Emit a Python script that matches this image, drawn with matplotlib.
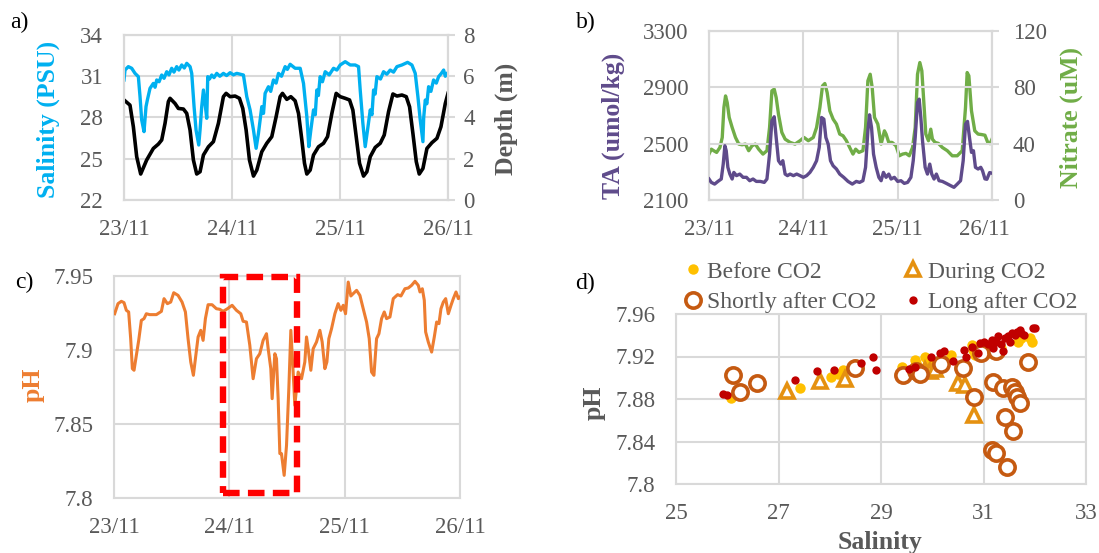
import matplotlib
matplotlib.use('Agg')
import matplotlib.pyplot as plt
from matplotlib.patches import Rectangle
from matplotlib.transforms import ScaledTranslation

plt.rcParams['font.family'] = ['Liberation Serif', 'DejaVu Serif']
plt.rcParams['font.size'] = 16.5

GRID = '#D9D9D9'
TICK = '#595959'
FS = 16.5
LFS = 18.5

# ---------------- data ----------------
date_ticks = [0, 24, 48, 72]            # hours since 23/11 00:00
date_labels = ['23/11', '24/11', '25/11', '26/11']

# panel a: salinity (PSU)
sal_t = [0.0, 0.22, 0.96, 1.71, 2.45, 3.19, 3.56, 3.93, 4.45, 4.89, 5.19, 5.78, 6.52, 6.9, 7.27, 7.8,
         8.38, 8.9, 9.49, 10.0, 10.60, 11.1, 11.71, 12.2, 12.83, 13.4, 13.94, 14.68, 15.05, 15.57, 16.01,
         16.61, 16.90, 17.27, 17.65, 18.09, 18.39, 18.61, 19.0, 19.50, 20.0, 20.61, 21.3, 22.09, 22.8,
         23.58, 24.3, 25.06, 26.54, 27.28, 28.02, 28.77, 29.36, 29.88, 30.62, 31.0, 31.36, 32.10, 32.6,
         33.21, 33.8, 34.33, 35.0, 35.81, 36.3, 36.92, 38.03, 39.15, 39.89, 40.63, 41.07, 41.52, 42.11,
         42.5, 42.85, 43.2, 43.59, 44.1, 44.71, 45.6, 46.56, 47.3, 48.04, 49.16, 50.27, 51.38, 52.12,
         52.49, 53.08, 53.60, 54.12, 54.72, 55.1, 55.46, 55.8, 56.20, 57.0, 57.68, 58.4, 59.16, 59.9,
         60.65, 61.76, 63.02, 63.98, 64.72, 65.31, 65.83, 66.43, 66.6, 66.95, 67.3, 67.69, 68.2, 68.80,
         69.4, 69.91, 70.5, 71.03, 71.4, 71.77, 72.0]
sal_v = [30.73, 31.45, 31.70, 31.58, 31.21, 30.97, 29.52, 27.82, 26.97, 28.79, 29.27, 30.12, 30.48, 30.2,
         30.73, 30.6, 31.09, 30.85, 31.33, 31.1, 31.58, 31.3, 31.70, 31.45, 31.82, 31.6, 31.94, 31.70,
         31.21, 28.79, 27.09, 26.00, 27.09, 28.79, 30.00, 28.79, 27.94, 30.97, 30.8, 31.09, 30.9, 31.21,
         31.0, 31.21, 31.05, 31.26, 31.1, 31.21, 31.09, 29.52, 28.55, 27.09, 25.76, 26.85, 28.79, 28.3,
         29.76, 30.24, 29.9, 30.73, 30.5, 31.21, 31.0, 31.70, 31.5, 31.87, 31.58, 31.58, 30.48, 28.06,
         25.88, 27.09, 28.55, 28.2, 30.00, 29.6, 30.97, 30.6, 31.33, 31.1, 31.58, 31.45, 31.82, 32.06,
         31.82, 31.82, 31.70, 30.00, 27.58, 25.88, 27.09, 28.55, 28.2, 30.00, 29.7, 30.97, 30.8, 31.33,
         31.15, 31.45, 31.3, 31.70, 31.82, 32.01, 31.82, 31.21, 29.52, 27.82, 26.24, 28.0, 29.27, 29.0,
         30.24, 29.9, 30.73, 30.5, 30.97, 31.2, 31.45, 31.0, 31.21, 31.26]

# panel a: depth (m)
dep_t = [0.0, 1.33, 2.08, 2.82, 3.71, 5.04, 6.52, 7.64, 8.38, 9.12, 9.86, 10.23, 11.34, 12.08, 13.20,
         13.94, 14.68, 15.42, 16.16, 16.90, 17.65, 18.76, 19.87, 20.98, 22.09, 22.69, 23.58, 24.69,
         25.65, 26.39, 27.14, 27.88, 28.77, 29.51, 30.62, 31.73, 32.84, 33.81, 34.70, 35.22, 36.18,
         37.07, 38.03, 38.78, 39.52, 40.11, 40.63, 41.37, 42.11, 43.22, 44.34, 45.23, 46.19, 47.15,
         48.04, 49.16, 50.12, 50.86, 51.60, 52.34, 53.23, 53.97, 54.72, 55.83, 56.94, 57.83, 58.79,
         59.76, 60.65, 61.76, 62.72, 63.46, 64.20, 64.95, 65.61, 66.43, 67.32, 68.43, 69.54, 70.43,
         71.40, 72.0]
dep_v = [4.85, 4.60, 3.55, 2.10, 1.26, 1.94, 2.50, 2.71, 2.91, 3.72, 4.77, 4.93, 4.68, 4.44, 4.41,
         4.20, 3.39, 1.94, 1.26, 1.37, 2.18, 2.58, 2.83, 3.72, 5.01, 5.17, 5.01, 5.04, 4.93, 4.44,
         3.39, 1.94, 1.16, 1.45, 2.34, 2.75, 3.07, 4.04, 5.01, 5.17, 4.88, 5.01, 4.81, 4.20, 2.91,
         1.78, 1.26, 1.45, 2.18, 2.58, 2.75, 3.07, 4.20, 5.17, 5.01, 4.93, 4.85, 4.36, 3.07, 1.78,
         1.16, 1.37, 2.10, 2.55, 2.75, 3.15, 4.28, 5.14, 5.04, 5.09, 5.01, 4.52, 3.23, 1.86, 1.26,
         1.53, 2.50, 2.78, 2.99, 3.55, 4.68, 5.17]

# panel b: nitrate (uM)
nit_t = [0.0, 0.59, 1.26, 1.94, 2.78, 3.37, 3.79, 4.21, 4.63, 5.14, 5.89, 6.74, 7.58, 8.42, 9.26,
         10.10, 10.95, 11.79, 12.63, 13.73, 14.74, 15.41, 16.00, 16.59, 17.09, 17.68, 18.53, 19.37,
         20.63, 21.89, 23.16, 24.17, 25.26, 26.53, 27.37, 28.21, 28.88, 29.47, 30.06, 30.74, 31.58,
         32.42, 33.26, 34.11, 34.95, 35.79, 36.63, 37.31, 38.15, 39.16, 39.83, 40.42, 41.01, 41.52,
         42.11, 42.95, 43.79, 44.63, 45.05, 45.73, 46.57, 47.58, 48.42, 49.26, 50.11, 50.95, 51.79,
         52.46, 53.05, 53.64, 54.15, 54.74, 55.16, 55.83, 56.42, 56.84, 57.51, 58.36, 59.37, 60.63,
         61.89, 63.16, 64.42, 65.26, 65.68, 66.11, 66.78, 67.62, 68.46, 69.3, 70.2, 70.9, 71.5, 72.0]
nit_v = [32.6, 36.1, 34.9, 33.8, 37.3, 44.4, 65.7, 73.9, 69.2, 58.6, 51.5, 44.4, 39.7, 39.2, 39.7,
         35.0, 38.5, 39.7, 36.1, 32.6, 35.0, 51.5, 77.5, 78.7, 72.8, 60.9, 48.0, 43.2, 40.9, 39.7,
         42.1, 44.4, 42.1, 44.4, 51.5, 65.7, 81.0, 82.7, 76.3, 63.3, 57.4, 53.9, 46.8, 45.6, 42.1,
         37.3, 32.6, 36.1, 33.8, 35.0, 51.5, 84.6, 89.3, 79.8, 58.6, 53.9, 39.7, 49.1, 46.8, 40.9,
         40.9, 38.5, 31.4, 32.6, 33.1, 31.4, 37.3, 51.5, 89.3, 97.6, 91.7, 65.7, 46.8, 42.1, 50.3,
         43.2, 40.9, 40.2, 37.3, 35.0, 31.4, 31.4, 35.0, 65.7, 90.5, 88.2, 63.3, 49.1, 46.8, 46.5,
         46.0, 41.0, 40.0, 43.2]

# panel b: total alkalinity (umol/kg)
ta_t = [0.0, 0.59, 1.43, 2.27, 3.12, 3.62, 4.04, 4.38, 4.80, 5.31, 5.89, 6.32, 6.99, 7.83, 8.67, 9.52,
        10.36, 11.20, 12.04, 13.05, 14.06, 14.74, 15.41, 16.00, 16.59, 17.09, 17.68, 18.27, 18.78,
        19.37, 19.96, 20.63, 21.47, 22.32, 23.16, 24.00, 24.84, 25.68, 26.53, 27.37, 28.04, 28.63,
        29.22, 29.73, 30.32, 30.91, 31.58, 32.42, 33.26, 34.27, 35.37, 36.46, 37.47, 38.31, 39.16,
        39.83, 40.42, 40.84, 41.35, 41.86, 42.53, 43.21, 43.79, 44.38, 45.05, 45.73, 46.32, 47.16,
        48.00, 48.84, 49.68, 50.53, 51.37, 51.96, 52.46, 53.05, 53.47, 53.89, 54.32, 54.99, 55.58,
        56.17, 56.67, 57.26, 57.85, 58.53, 59.37, 60.38, 61.47, 62.32, 63.16, 64.00, 64.67, 65.26,
        65.77, 66.27, 66.78, 67.28, 67.79, 68.46, 69.14, 69.6, 70.2, 70.7, 71.4, 72.0]
ta_v = [2249, 2225, 2213, 2232, 2249, 2355, 2485, 2450, 2332, 2284, 2249, 2296, 2273, 2284, 2261, 2261,
        2237, 2249, 2232, 2232, 2225, 2249, 2426, 2662, 2691, 2544, 2379, 2355, 2379, 2284, 2273, 2284,
        2273, 2284, 2273, 2261, 2273, 2296, 2332, 2379, 2473, 2686, 2674, 2544, 2497, 2379, 2343, 2320,
        2284, 2261, 2232, 2213, 2232, 2225, 2237, 2332, 2591, 2705, 2615, 2426, 2332, 2261, 2237, 2296,
        2261, 2284, 2249, 2261, 2232, 2237, 2218, 2225, 2261, 2379, 2544, 2792, 2816, 2686, 2521, 2332,
        2284, 2355, 2284, 2249, 2284, 2237, 2232, 2218, 2202, 2190, 2213, 2237, 2379, 2639, 2658, 2544,
        2438, 2450, 2332, 2320, 2332, 2307, 2250, 2247, 2295, 2290]

# panel c: pH
ph_t = [0.14, 0.83, 1.53, 2.08, 2.57, 3.05, 3.47, 3.82, 4.17, 4.65, 5.14, 5.69, 6.25, 6.73, 7.43, 8.82,
        9.86, 10.41, 11.11, 11.80, 12.43, 13.33, 14.16, 14.86, 15.41, 15.97, 16.52, 16.94, 17.50, 18.05,
        18.54, 19.02, 19.58, 20.41, 21.31, 22.01, 22.70, 23.61, 24.58, 25.48, 26.38, 26.87, 27.56, 28.26,
        28.95, 29.64, 30.34, 31.03, 31.73, 32.08, 32.63, 32.91, 33.47, 33.81, 34.16, 34.51, 34.85, 35.41,
        35.90, 36.38, 36.80, 37.28, 37.63, 38.32, 39.02, 39.71, 40.06, 40.41, 40.96, 41.45, 42.14, 42.84,
        43.32, 43.88, 44.30, 44.71, 45.27, 45.96, 46.65, 47.21, 47.70, 48.18, 48.74, 49.29, 49.78, 50.48,
        51.17, 51.86, 52.56, 53.11, 53.60, 54.09, 54.64, 55.13, 55.68, 56.24, 56.72, 57.42, 58.11, 59.02,
        59.71, 60.54, 61.24, 61.93, 62.63, 63.32, 63.67, 64.16, 64.57, 64.85, 65.40, 66.10, 66.65, 67.14,
        67.62, 68.04, 68.53, 69.02, 69.57, 70.13, 70.61, 71.17, 71.66, 72.0]
ph_v = [7.9245, 7.9313, 7.9329, 7.9320, 7.9268, 7.9257, 7.9077, 7.8874, 7.8863, 7.8964, 7.9065, 7.9200,
        7.9212, 7.9245, 7.9239, 7.9239, 7.9261, 7.9347, 7.9313, 7.9324, 7.9387, 7.9369, 7.9324, 7.9257,
        7.9077, 7.8919, 7.8829, 7.8941, 7.9088, 7.9133, 7.9065, 7.9212, 7.9306, 7.9306, 7.9279, 7.9275,
        7.9261, 7.9279, 7.9302, 7.9268, 7.9245, 7.9194, 7.9189, 7.9032, 7.8806, 7.8941, 7.8975, 7.9065,
        7.9110, 7.9009, 7.8874, 7.8671, 7.8975, 7.8941, 7.8671, 7.8300, 7.8300, 7.8153, 7.8356, 7.8739,
        7.9133, 7.8851, 7.8626, 7.8851, 7.8806, 7.8919, 7.9088, 7.9009, 7.8863, 7.9009, 7.9054, 7.9133,
        7.9054, 7.8874, 7.8919, 7.9077, 7.9144, 7.9245, 7.9313, 7.9268, 7.9302, 7.9245, 7.9459, 7.9365,
        7.9381, 7.9403, 7.9369, 7.9279, 7.9189, 7.9077, 7.8851, 7.8829, 7.9077, 7.9110, 7.9212, 7.9257,
        7.9212, 7.9223, 7.9347, 7.9374, 7.9365, 7.9414, 7.9419, 7.9437, 7.9464, 7.9437, 7.9392, 7.9414,
        7.9336, 7.9122, 7.9054, 7.8986, 7.9088, 7.9189, 7.9178, 7.9279, 7.9324, 7.9347, 7.9245, 7.9302,
        7.9347, 7.9392, 7.9347, 7.9358]
co2_window = (22.7, 38.1)   # hours: highlighted CO2 period
co2_ph_range = (7.8034, 7.9493)

# panel d: pH vs salinity
before_sal = [26.07, 26.58, 27.41, 28.03, 28.16, 28.26, 29.40, 29.43, 29.66, 29.69, 29.85, 29.92, 30.05,
              30.05, 30.37, 30.77, 30.80, 30.83, 30.93, 31.12, 31.35, 31.68, 31.74, 31.91, 31.94]
before_ph = [7.881, 7.895, 7.890, 7.901, 7.904, 7.907, 7.910, 7.907, 7.917, 7.914, 7.920, 7.915, 7.910,
             7.906, 7.921, 7.931, 7.926, 7.921, 7.926, 7.923, 7.928, 7.934, 7.937, 7.937, 7.934]
during_sal = [27.17, 27.81, 28.29, 29.85, 29.95, 30.05, 30.50, 30.64, 30.82]
during_ph = [7.888, 7.897, 7.899, 7.907, 7.906, 7.908, 7.895, 7.893, 7.865]
short_sal = [26.11, 26.24, 26.58, 28.49, 29.43, 29.69, 29.76, 30.18, 30.60, 30.82, 30.96, 31.19, 31.25,
             31.38, 31.55, 31.61, 31.65, 31.71, 31.42, 31.58, 31.16, 31.25, 31.45, 31.87]
short_ph = [7.903, 7.887, 7.895, 7.909, 7.903, 7.906, 7.904, 7.913, 7.909, 7.882, 7.923, 7.896, 7.925,
            7.890, 7.891, 7.887, 7.882, 7.876, 7.863, 7.850, 7.832, 7.829, 7.816, 7.915]
long_sal = [25.91, 26.00, 27.33, 27.75, 28.08, 28.60, 28.85, 28.90, 29.54, 29.66, 29.98, 30.15, 30.23,
            30.41, 30.62, 30.65, 30.77, 30.90, 30.93, 31.01, 31.09, 31.16, 31.19, 31.25, 31.29, 31.35,
            31.38, 31.42, 31.48, 31.51, 31.55, 31.61, 31.65, 31.71, 31.74, 31.79, 31.97, 32.00]
long_ph = [7.885, 7.884, 7.898, 7.906, 7.907, 7.914, 7.920, 7.907, 7.908, 7.910, 7.920, 7.923, 7.925,
           7.916, 7.926, 7.920, 7.929, 7.923, 7.933, 7.934, 7.932, 7.936, 7.928, 7.934, 7.939, 7.932,
           7.925, 7.937, 7.939, 7.934, 7.942, 7.940, 7.943, 7.945, 7.942, 7.940, 7.947, 7.947]

# ---------------- figure ----------------
W, H = 1099, 553
fig = plt.figure(figsize=(W / 100, H / 100), dpi=100)


def box(l, t, r, b):
    return [l / W, (H - b) / H, (r - l) / W, (b - t) / H]


def style(ax):
    ax.set_axisbelow(True)
    ax.grid(True, color=GRID, lw=1.5)
    for s in ax.spines.values():
        s.set_color(GRID)
        s.set_linewidth(1.5)
    ax.tick_params(axis='both', length=0, colors=TICK, labelsize=FS)
    ax.tick_params(axis='y', pad=15)
    ax.tick_params(axis='x', pad=14)


def style_right(ax2, pad=6):
    ax2.grid(False)
    for s in ax2.spines.values():
        s.set_color(GRID)
        s.set_linewidth(1.5)
    ax2.tick_params(axis='y', length=5, width=1.5, color=GRID, direction='out',
                    labelcolor=TICK, labelsize=FS, pad=pad)


def ylab(ax, text, color, x, y):
    ax.set_ylabel(text, color=color, fontweight='bold', fontsize=LFS)
    ax.yaxis.set_label_coords(x, y)
    ax.yaxis.label.set_va('center')
    ax.yaxis.label.set_ha('center')


# ---- panel a
axa = fig.add_axes(box(124, 35, 448, 200))
style(axa)
axa.plot(sal_t, sal_v, color='#00B0F0', lw=2.4, zorder=3)
axa.set_ylim(22, 34)
axa.set_yticks([22, 25, 28, 31, 34])
axa.set_xlim(0, 72)
axa.set_xticks(date_ticks)
axa.set_xticklabels(date_labels)
ylab(axa, 'Salinity (PSU)', '#00B0F0', -0.235, 0.49)
axa2 = axa.twinx()
style_right(axa2, pad=6)
axa2.plot(dep_t, dep_v, color='black', lw=2.6)
axa2.set_ylim(0, 8)
axa2.set_yticks([0, 2, 4, 6, 8])
ylab(axa2, 'Depth (m)', TICK, 1.179, 0.49)

# ---- panel b
axb = fig.add_axes(box(709, 31, 992, 200))
style(axb)
axb.plot(ta_t, ta_v, color='#5F4B8B', lw=2.4, zorder=3)
axb.set_ylim(2100, 3300)
axb.set_yticks([2100, 2500, 2900, 3300])
axb.set_xlim(0, 72)
axb.set_xticks(date_ticks)
axb.set_xticklabels(date_labels)
last = axb.get_xticklabels()[-1]
last.set_transform(last.get_transform() + ScaledTranslation(-8 / 100, 0, fig.dpi_scale_trans))
ylab(axb, 'TA (umol/kg)', '#5F4B8B', -0.339, 0.44)
axb2 = axb.twinx()
style_right(axb2, pad=10)
axb2.plot(nit_t, nit_v, color='#70AD47', lw=2.4)
axb2.set_ylim(0, 120)
axb2.set_yticks([0, 40, 80, 120])
ylab(axb2, 'Nitrate (uM)', '#70AD47', 1.2816, 0.49)
axb2.set_zorder(axb.get_zorder() - 1)
axb.patch.set_visible(False)

# ---- panel c
axc = fig.add_axes(box(114, 276, 460, 498))
style(axc)
axc.plot(ph_t, ph_v, color='#ED7D31', lw=2.2, zorder=3)
axc.set_ylim(7.8, 7.95)
axc.set_yticks([7.8, 7.85, 7.9, 7.95])
axc.set_yticklabels(['7.8', '7.85', '7.9', '7.95'])
axc.set_xlim(0, 72)
axc.set_xticks(date_ticks)
axc.set_xticklabels(date_labels)
ylab(axc, 'pH', '#ED7D31', -0.234, 0.51)
axc.add_patch(Rectangle((co2_window[0], co2_ph_range[0]), co2_window[1] - co2_window[0],
                        co2_ph_range[1] - co2_ph_range[0], fill=False, edgecolor='#FF0000',
                        lw=4.6, linestyle=(0, (2.6, 1.3)), zorder=5, clip_on=False))

# ---- panel d
axd = fig.add_axes(box(676, 314, 1086, 484))
style(axd)
axd.plot(before_sal, before_ph, 'o', color='#FFC000', ms=7.5, mec='none', zorder=3,
         label='Before CO2')
axd.plot(during_sal, during_ph, '^', color='#E59110', mfc='white', mec='#E59110', ms=10, mew=2.6,
         zorder=4, label='During CO2')
axd.plot(short_sal, short_ph, 'o', mfc='white', mec='#C55A11', ms=11, mew=2.6, zorder=5,
         label='Shortly after CO2')
axd.plot(long_sal, long_ph, 'o', color='#C00000', ms=6, mec='none', zorder=6, label='Long after CO2')
axd.set_xlim(25, 33)
axd.set_xticks([25, 27, 29, 31, 33])
axd.set_ylim(7.8, 7.96)
axd.set_yticks([7.8, 7.84, 7.88, 7.92, 7.96])
axd.set_yticklabels(['7.8', '7.84', '7.88', '7.92', '7.96'])
ylab(axd, 'pH', TICK, -0.2, 0.48)
axd.set_xlabel('Salinity', color=TICK, fontweight='bold', fontsize=LFS)
axd.xaxis.set_label_coords(0.497, -0.345)
axd.xaxis.label.set_va('center')
h, l = axd.get_legend_handles_labels()
order = [0, 2, 1, 3]
leg = axd.legend([h[i] for i in order], [l[i] for i in order], ncol=2, loc='center left',
                 bbox_to_anchor=(685 / W, 1 - 287 / H), bbox_transform=fig.transFigure,
                 frameon=False, fontsize=17, handlelength=0.7, handletextpad=0.25,
                 columnspacing=1.2, labelspacing=0.36, borderpad=0, borderaxespad=0)
for t in leg.get_texts():
    t.set_color(TICK)

# panel labels
for txt, x, y in [('a)', 10, 22), ('b)', 576, 22), ('c)', 15, 282), ('d)', 575, 283)]:
    fig.text(x / W, 1 - y / H, txt, fontsize=17, color='black', va='center', ha='left')

fig.savefig('out.png', dpi=100)
